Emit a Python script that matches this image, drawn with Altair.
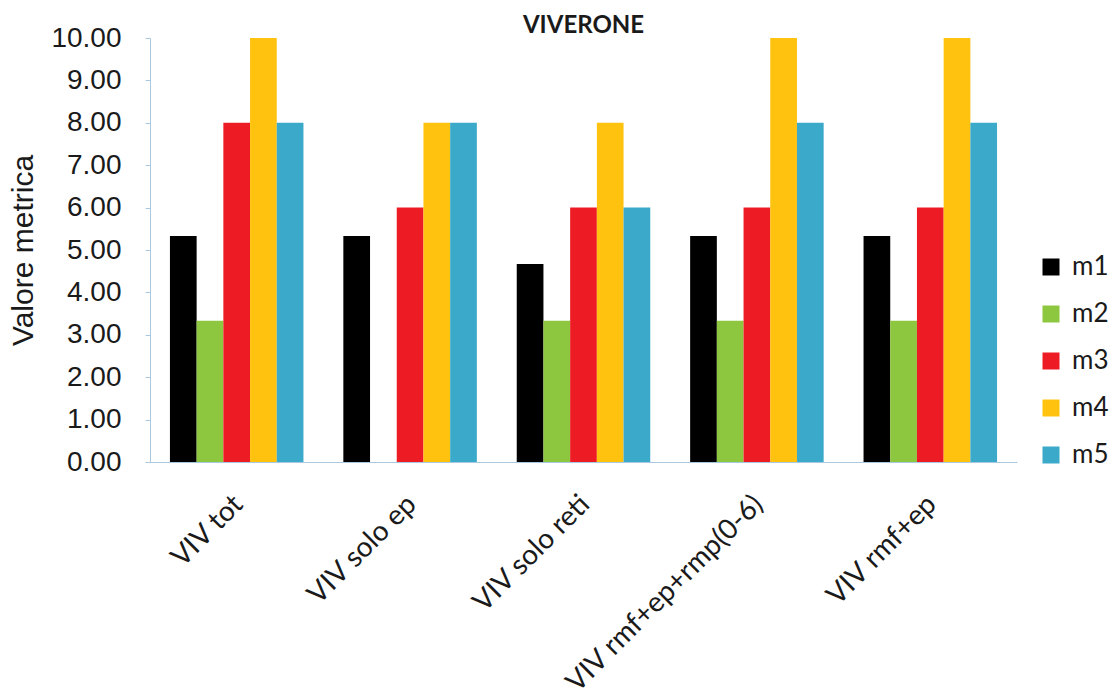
import altair as alt
import pandas as pd

categories = ["VIV tot", "VIV solo ep", "VIV solo reti", "VIV rmf+ep+rmp(0-6)", "VIV rmf+ep"]
series = ["m1", "m2", "m3", "m4", "m5"]
m1 = [5.33, 5.33, 4.67, 5.33, 5.33]
m2 = [3.33, 0.0, 3.33, 3.33, 3.33]
m3 = [8.0, 6.0, 6.0, 6.0, 6.0]
m4 = [10.0, 8.0, 8.0, 10.0, 10.0]
m5 = [8.0, 8.0, 6.0, 8.0, 8.0]
colors = ["#000000", "#8dc63f", "#ed1c24", "#ffc20e", "#3ba9c9"]
y_ticks = [0, 1, 2, 3, 4, 5, 6, 7, 8, 9, 10]

values = {"m1": m1, "m2": m2, "m3": m3, "m4": m4, "m5": m5}
rows = []
for s in series:
    for c, v in zip(categories, values[s]):
        rows.append({"cat": c, "serie": s, "val": v})
df = pd.DataFrame(rows)

axis_col = "#a9c8e0"

chart = alt.Chart(df).mark_bar(size=26.7).encode(
    x=alt.X("cat:N", sort=categories, title=None,
            scale=alt.Scale(paddingInner=0.23, paddingOuter=0.115),
            axis=alt.Axis(labelAngle=315, labelAlign="right", labelBaseline="middle",
                          labelPadding=38, labelOffset=2, labelLimit=500, ticks=False,
                          domainColor=axis_col,
                          labelFont="Lato", labelFontSize=28, labelColor="#1a1a1a")),
    xOffset=alt.XOffset("serie:N", sort=series, scale=alt.Scale(paddingInner=0, paddingOuter=0)),
    y=alt.Y("val:Q", title="Valore metrica",
            scale=alt.Scale(domain=[0, 10], nice=False),
            axis=alt.Axis(values=y_ticks, format=".2f", grid=False, domainColor=axis_col,
                          tickColor=axis_col, tickSize=5, labelPadding=24,
                          labelFont="Liberation Sans", labelFontSize=28, labelColor="#1a1a1a",
                          titleFont="Liberation Sans", titleFontSize=30, titleFontWeight="normal",
                          titleColor="#1a1a1a", titlePadding=12)),
    color=alt.Color("serie:N", sort=series,
                    scale=alt.Scale(domain=series, range=colors),
                    legend=alt.Legend(title=None, orient="none", legendX=888, legendY=216,
                                      padding=0,
                                      symbolType="square", symbolSize=289, symbolStrokeWidth=0,
                                      labelFont="Lato", labelFontSize=26, labelColor="#1a1a1a",
                                      rowPadding=21, labelOffset=8)),
).properties(
    width=867, height=424,
    title=alt.Title("VIVERONE", font="Lato", fontSize=24, fontWeight="bold",
                    color="#1a1a1a", offset=0, dy=14, anchor="middle"),
    padding={"left": 150, "top": 38, "right": 103, "bottom": 234},
    autosize=alt.AutoSizeParams(type="none"),
).configure_view(stroke=None)

chart.save("out.html", embed_options={"renderer": "svg", "actions": False})
